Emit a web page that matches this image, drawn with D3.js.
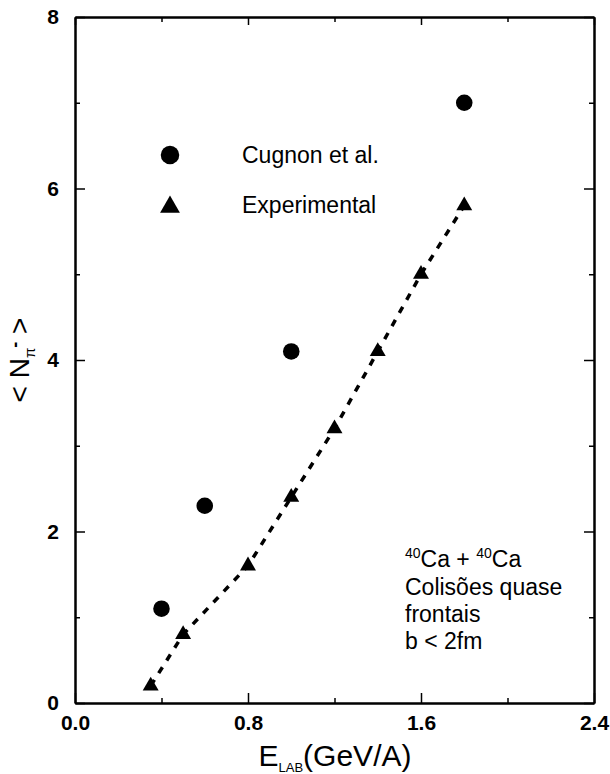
<!DOCTYPE html>
<html>
<head>
<meta charset="utf-8">
<script src="https://cdn.jsdelivr.net/npm/d3@7"></script>
<style>
  body { margin: 0; background: #fff; }
  svg { display: block; font-family: "Liberation Sans", Arial, sans-serif; }
</style>
</head>
<body>
<svg id="chart" width="610" height="774"></svg>
<script>
// values
const cugnonE = [0.4, 0.6, 1.0, 1.8];
const cugnonN = [1.1, 2.3, 4.1, 7.0];
const expE = [0.35, 0.5, 0.8, 1.0, 1.2, 1.4, 1.6, 1.8];
const expN = [0.2, 0.8, 1.6, 2.4, 3.2, 4.1, 5.0, 5.8];
const xMajor = [0, 0.8, 1.6, 2.4];
const xMinor = [0.4, 1.2, 2.0];
const yMajor = [0, 2, 4, 6, 8];
const yMinor = [1, 3, 5, 7];
const legendItems = ['Cugnon et al.', 'Experimental'];
const noteLines = ['Colisões quase', 'frontais', 'b < 2fm'];

const svg = d3.select('#chart');
const x = d3.scaleLinear().domain([0, 2.4]).range([75, 594]);
const y = d3.scaleLinear().domain([0, 8]).range([703, 17]);

const cugnon = cugnonE.map((e, i) => ({ e, n: cugnonN[i] }));
const exper = expE.map((e, i) => ({ e, n: expN[i] }));

function styleAxis(g) {
    g.select('.domain').attr('stroke-width', 2);
    g.selectAll('.tick line').attr('stroke-width', 1.5);
    g.selectAll('text').attr('font-size', 21).attr('font-weight', 'bold').attr('fill', '#000');
}

// bottom axis with labels, ticks pointing in
svg.append('g').attr('transform', `translate(0,${y(0)})`)
    .call(d3.axisBottom(x).tickValues(xMajor).tickFormat(d3.format('.1f'))
        .tickSize(-10).tickSizeOuter(0).tickPadding(12))
    .call(styleAxis);
svg.append('g').attr('transform', `translate(0,${y(0)})`)
    .call(d3.axisBottom(x).tickValues(xMinor).tickFormat('').tickSize(-5).tickSizeOuter(0))
    .call(styleAxis);

// top
svg.append('g').attr('transform', `translate(0,${y(8)})`)
    .call(d3.axisTop(x).tickValues(xMajor).tickFormat('').tickSize(-8).tickSizeOuter(0))
    .call(styleAxis);
svg.append('g').attr('transform', `translate(0,${y(8)})`)
    .call(d3.axisTop(x).tickValues(xMinor).tickFormat('').tickSize(-5).tickSizeOuter(0))
    .call(styleAxis);

// left axis with labels
svg.append('g').attr('transform', `translate(${x(0)},0)`)
    .call(d3.axisLeft(y).tickValues(yMajor).tickFormat(d3.format('d'))
        .tickSize(-10).tickSizeOuter(0).tickPadding(16))
    .call(styleAxis);
svg.append('g').attr('transform', `translate(${x(0)},0)`)
    .call(d3.axisLeft(y).tickValues(yMinor).tickFormat('').tickSize(-5).tickSizeOuter(0))
    .call(styleAxis);

// right
svg.append('g').attr('transform', `translate(${x(2.4)},0)`)
    .call(d3.axisRight(y).tickValues(yMajor).tickFormat('').tickSize(-10).tickSizeOuter(0))
    .call(styleAxis);
svg.append('g').attr('transform', `translate(${x(2.4)},0)`)
    .call(d3.axisRight(y).tickValues(yMinor).tickFormat('').tickSize(-5).tickSizeOuter(0))
    .call(styleAxis);

// dashed line through the experimental points
svg.append('path')
    .datum(exper)
    .attr('fill', 'none')
    .attr('stroke', '#000')
    .attr('stroke-width', 3.5)
    .attr('stroke-dasharray', '7,8')
    .attr('d', d3.line().x(d => x(d.e)).y(d => y(d.n)));

const circle = d3.symbol().type(d3.symbolCircle);
const tri = d3.symbol().type(d3.symbolTriangle);

svg.selectAll('.cug').data(cugnon).join('path')
    .attr('class', 'cug')
    .attr('transform', d => `translate(${x(d.e)},${y(d.n)})`)
    .attr('d', circle.size(215)());

svg.selectAll('.exp').data(exper).join('path')
    .attr('class', 'exp')
    .attr('transform', d => `translate(${x(d.e)},${y(d.n)})`)
    .attr('d', tri.size(110)());

// legend
const legend = svg.append('g');
legend.append('path').attr('transform', 'translate(170,155)').attr('d', circle.size(270)());
legend.append('path').attr('transform', 'translate(170,207)').attr('d', tri.size(170)());
legend.selectAll('text').data(legendItems).join('text')
    .attr('x', 242)
    .attr('y', (d, i) => 163 + i * 50)
    .attr('font-size', 23)
    .text(d => d);

// note in lower right
const note = svg.append('g').attr('font-size', 23);
const head = note.append('text').attr('x', 405).attr('y', 567);
head.append('tspan').attr('font-size', 14).attr('dy', -9).text('40');
head.append('tspan').attr('dy', 9).text('Ca  + ');
head.append('tspan').attr('font-size', 14).attr('dy', -9).text('40');
head.append('tspan').attr('dy', 9).text('Ca');
note.selectAll('.line').data(noteLines).join('text')
    .attr('class', 'line')
    .attr('x', 405)
    .attr('y', (d, i) => 595 + i * 27)
    .text(d => d);

// axis titles
const xt = svg.append('text')
    .attr('x', 335).attr('y', 766)
    .attr('text-anchor', 'middle')
    .attr('font-size', 30);
xt.append('tspan').text('E');
xt.append('tspan').attr('font-size', 13).attr('dy', 6).text('LAB');
xt.append('tspan').attr('dy', -6).text('(GeV/A)');

const yt = svg.append('text')
    .attr('transform', `translate(29,${y(4)}) rotate(-90)`)
    .attr('text-anchor', 'middle')
    .attr('font-size', 28);
yt.append('tspan').text('< N');
yt.append('tspan').attr('font-size', 15).attr('dy', 6).text('π');
yt.append('tspan').attr('font-size', 18).attr('font-weight', 'bold').attr('dy', -14).text('-');
yt.append('tspan').attr('dy', 8).text(' >');
</script>
</body>
</html>
